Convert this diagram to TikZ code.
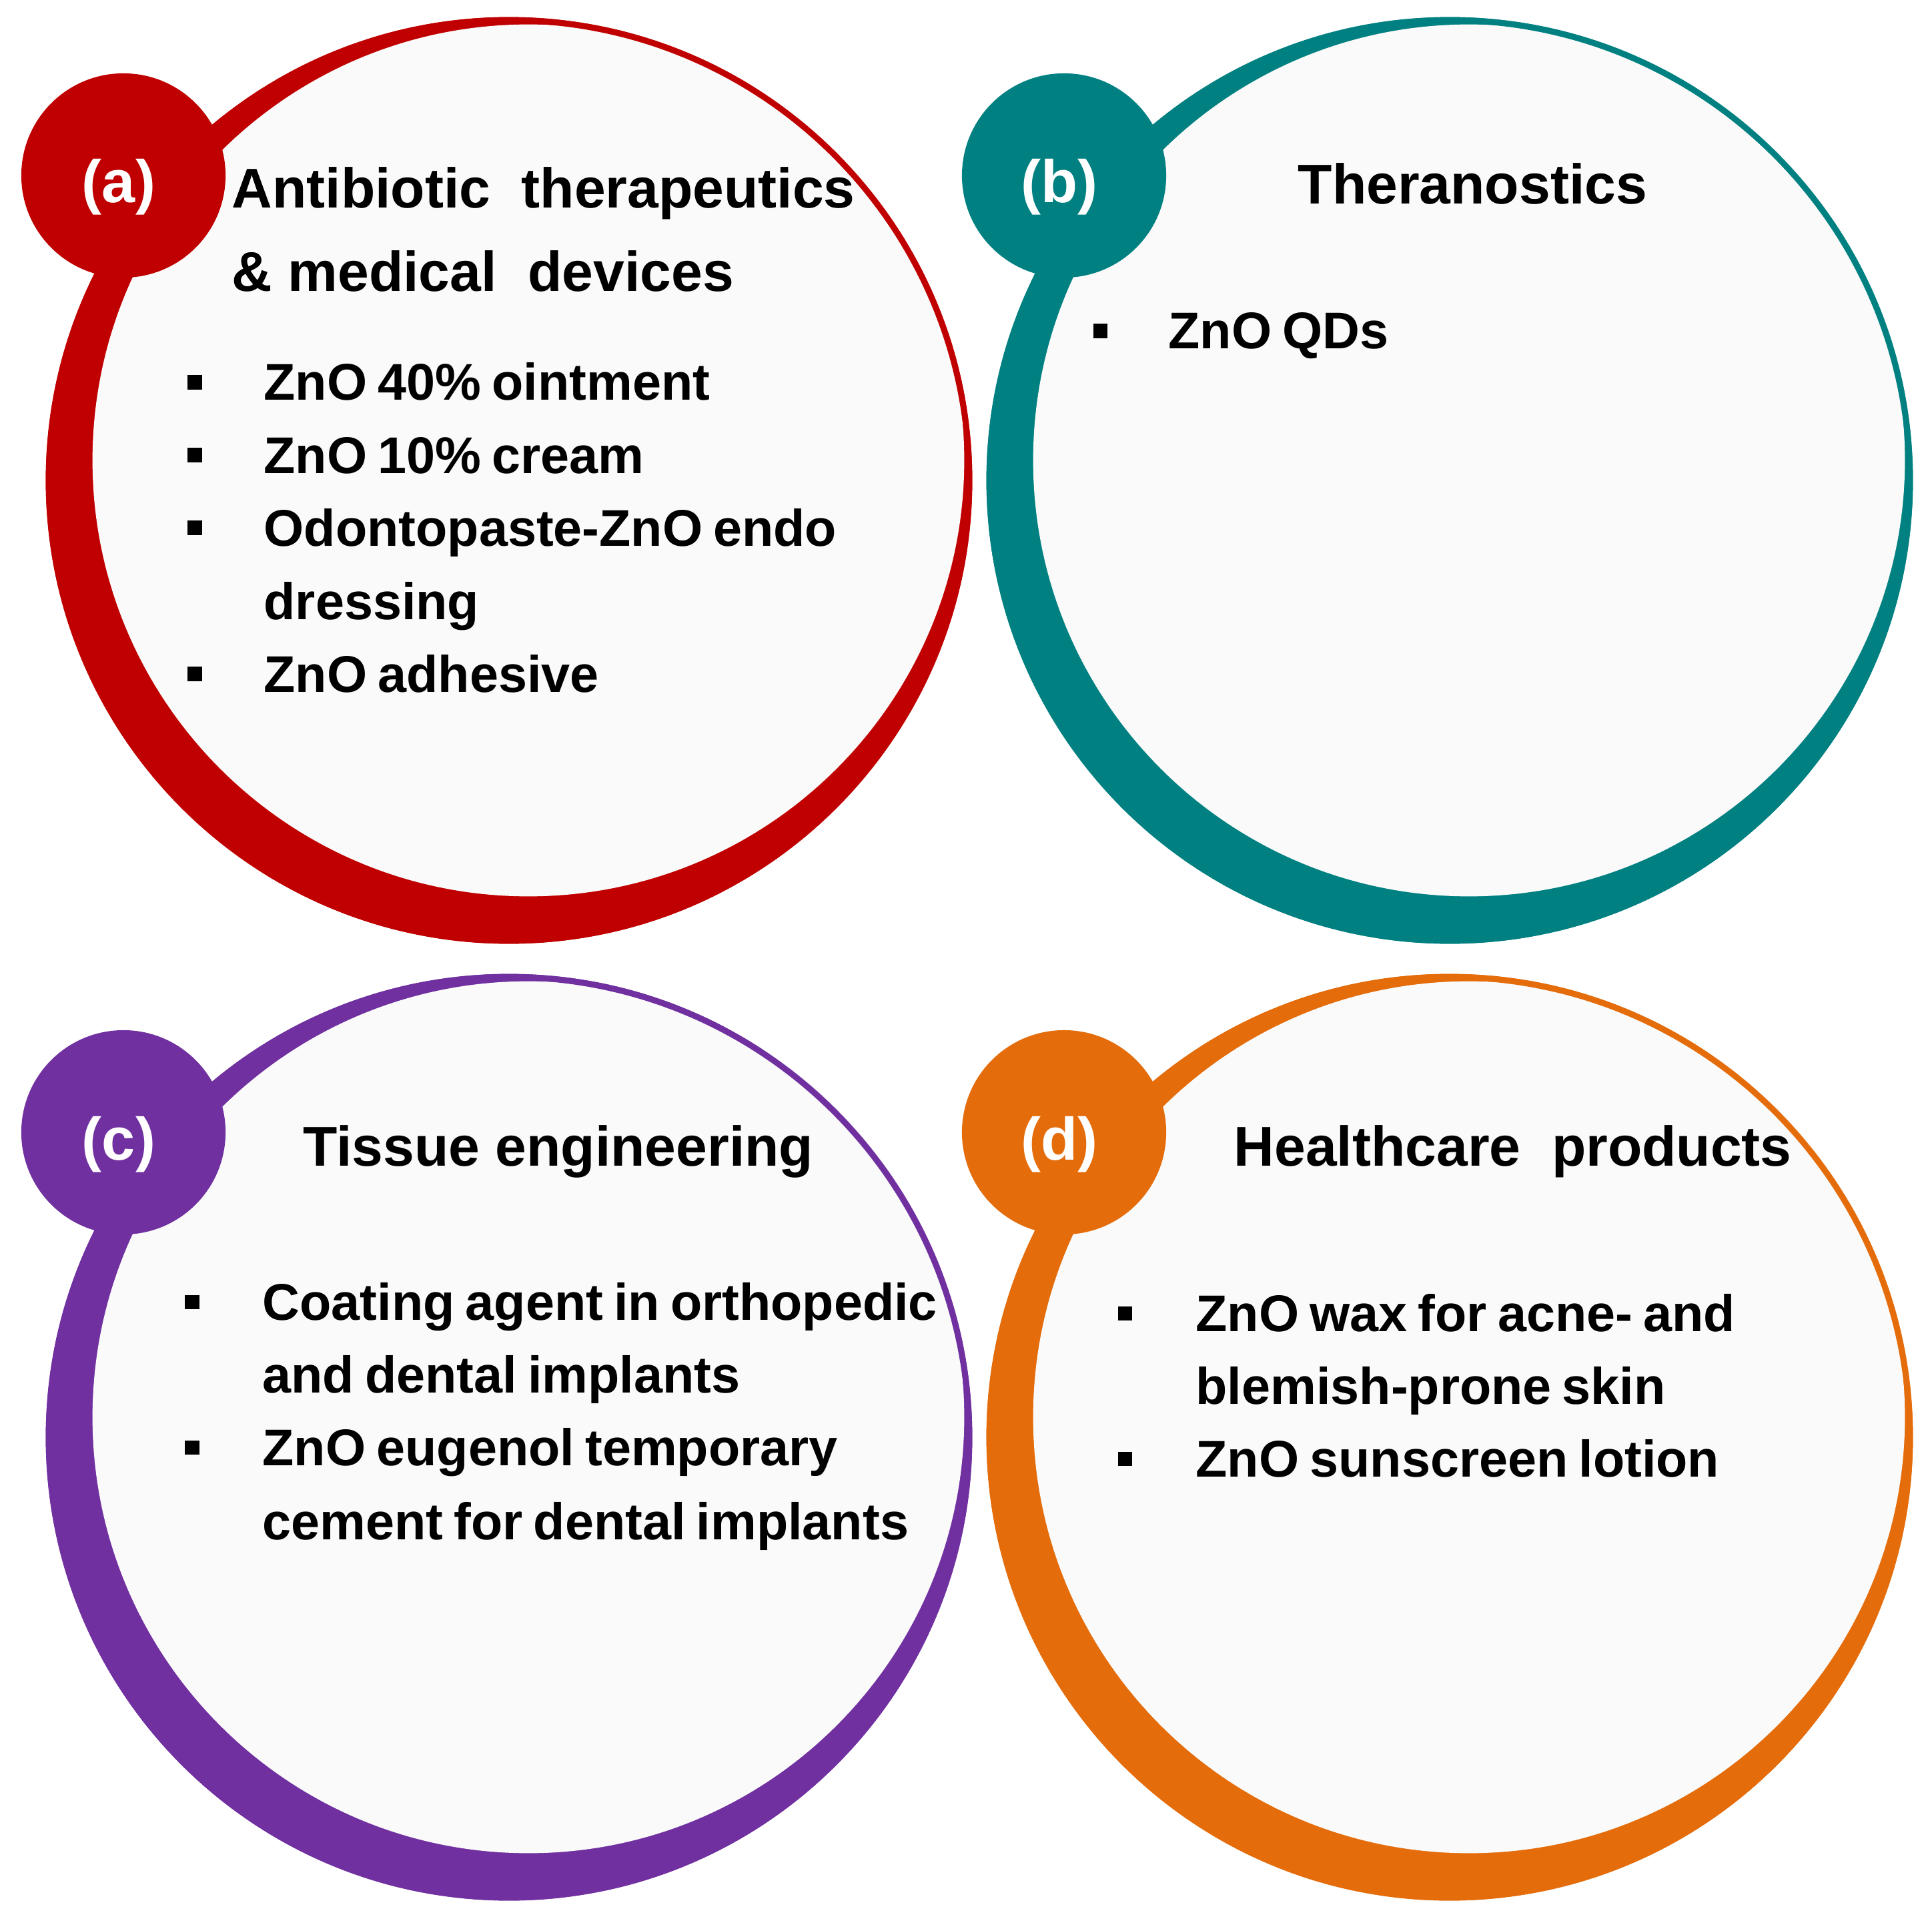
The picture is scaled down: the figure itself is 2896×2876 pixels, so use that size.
\documentclass[tikz,border=0pt]{standalone}
\usepackage{fontspec}
\setmainfont{Liberation Sans}
\newfontfamily\itemfont[WordSpace=0.75]{Liberation Sans}
\usetikzlibrary{calc}
\definecolor{cred}{HTML}{C00000}
\definecolor{cteal}{HTML}{008080}
\definecolor{cpurple}{HTML}{7030A0}
\definecolor{corange}{HTML}{E46C0A}
\definecolor{innerfill}{HTML}{FAFAFA}
\tikzset{
  lab/.style={anchor=base, inner sep=0pt, text=white, font=\fontsize{25.6}{30}\selectfont\bfseries},
  ttl/.style={anchor=base west, inner sep=0pt, font=\fontsize{23.9}{28}\selectfont\bfseries},
  itm/.style={anchor=base west, inner sep=0pt, font=\itemfont\fontsize{22.0}{26}\selectfont\bfseries},
  bul/.style={fill=black, inner sep=0pt, minimum size=0.21cm, shape=rectangle}
}
\newcommand\ringpanel[5]{%
  \fill[#4] (#2,#3) circle[radius=6.94cm];
  \fill[innerfill] ($(#2,#3)+(29,-30)$) circle[radius=6.53cm];
  \draw[#4, line width=0.09cm] (#2,#3) circle[radius=6.895cm];
  \fill[#4] ($(#2,#3)+(-578,-457)$) circle[radius=1.53cm];
  \node[lab] (#1lab) at ($(#2,#3)+(-585,-416)$) {#5};
}
\begin{document}
\begin{tikzpicture}[x=0.01cm,y=-0.01cm]
\useasboundingbox[fill=white] (0,0) rectangle (2896,2876);

% (a)
\ringpanel{a}{763}{720}{cred}{(a)}
\node[ttl] (atitle1) at (347,312) {Antibiotic\ \ therapeutics};
\node[ttl] (atitle2) at (347,437) {\&\ medical\ \ devices};
\node[bul] (ab1) at (292,573) {};
\node[itm] (ai1) at (395,600) {ZnO 40\% ointment};
\node[bul] (ab2) at (292,682) {};
\node[itm] (ai2) at (395,709) {ZnO 10\% cream};
\node[bul] (ab3) at (292,791) {};
\node[itm] (ai3) at (395,818) {Odontopaste-ZnO endo};
\node[itm] (ai3b) at (395,928) {dressing};
\node[bul] (ab4) at (292,1010) {};
\node[itm] (ai4) at (395,1037) {ZnO adhesive};

% (b)
\ringpanel{b}{2173}{720}{cteal}{(b)}
\node[ttl] (btitle) at (1945,306) {Theranostics};
\node[bul] (bb1) at (1649,496) {};
\node[itm] (bi1) at (1751,523) {ZnO QDs};

% (c)
\ringpanel{c}{763}{2154}{cpurple}{(c)}
\node[ttl] (ctitle) at (454,1747) {Tissue engineering};
\node[bul] (cb1) at (288,1951) {};
\node[itm] (ci1) at (393,1978) {Coating agent in orthopedic};
\node[itm] (ci1b) at (393,2087) {and dental implants};
\node[bul] (cb2) at (288,2169) {};
\node[itm] (ci2) at (393,2196) {ZnO eugenol temporary};
\node[itm] (ci2b) at (393,2307) {cement for dental implants};

% (d)
\ringpanel{d}{2173}{2154}{corange}{(d)}
\node[ttl] (dtitle) at (1849,1747) {Healthcare\ \ products};
\node[bul] (db1) at (1686,1968) {};
\node[itm] (di1) at (1792,1995) {ZnO wax for acne- and};
\node[itm] (di1b) at (1792,2104) {blemish-prone skin};
\node[bul] (db2) at (1686,2186) {};
\node[itm] (di2) at (1792,2213) {ZnO sunscreen lotion};
\end{tikzpicture}
\end{document}
